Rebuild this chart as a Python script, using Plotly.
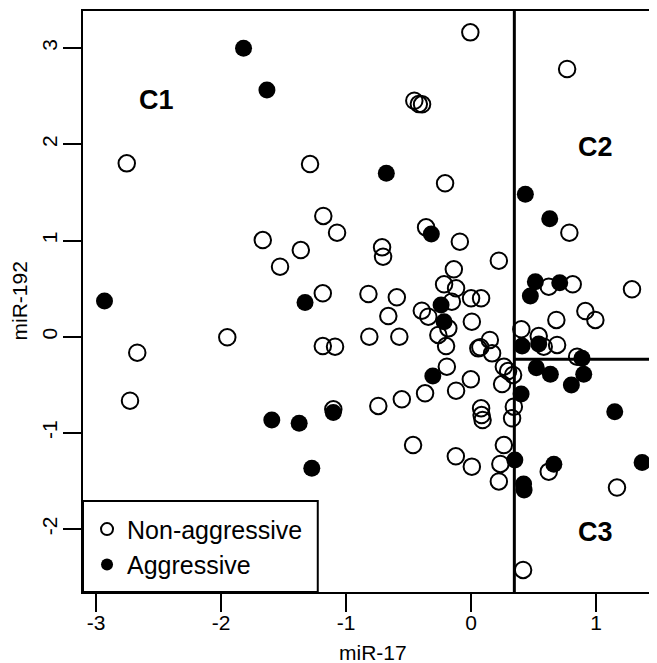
import plotly.graph_objects as go

# Non-aggressive (open circles)
non_x = [-2.754, -1.288, -0.006, 0.768, -0.454, -0.418, -0.392, -0.208, -1.666, -1.182,
         -1.362, -1.528, -1.072, -1.186, -0.712, -0.704, -0.360, -0.090, 0.222, -0.138,
         0.786, -0.821, -0.594, -0.662, -0.216, -0.120, 0.000, 0.080, -0.154, -0.394,
         -0.342, -0.182, -0.262, -0.200, 0.006, 0.058, -0.814, -0.574, -1.186, -1.088,
         -0.194, -0.002, -0.120, -0.368, -0.554, -0.742, -1.102, 0.080, 0.084, 0.092,
         0.342, 0.328, 0.150, 0.074, 0.168, 0.262, 0.296, 0.336, 0.248, -2.670,
         -1.950, -2.728, -0.464, -0.122, 0.006, 0.234, 0.222, 0.262, 0.416, 0.621,
         0.813, 1.287, 0.682, 0.914, 0.994, 0.402, 0.541, 0.581, 0.688, 0.848,
         0.621, 1.167]
non_y = [1.802, 1.795, 3.164, 2.783, 2.453, 2.419, 2.416, 1.595, 1.005, 1.255,
         0.901, 0.728, 1.081, 0.451, 0.929, 0.832, 1.137, 0.988, 0.790, 0.701,
         1.081, 0.444, 0.410, 0.215, 0.545, 0.503, 0.399, 0.399, 0.364, 0.270,
         0.208, 0.087, 0.018, -0.097, 0.156, -0.121, 0.000, 0.000, -0.097, -0.104,
         -0.312, -0.443, -0.561, -0.588, -0.651, -0.720, -0.755, -0.744, -0.814, -0.866,
         -0.728, -0.848, -0.034, -0.110, -0.173, -0.312, -0.357, -0.398, -0.492, -0.166,
         -0.006, -0.665, -1.126, -1.243, -1.351, -1.323, -1.505, -1.126, -2.425, 0.520,
         0.545, 0.493, 0.174, 0.267, 0.174, 0.077, 0.007, -0.104, -0.086, -0.208,
         -1.403, -1.568]

# Aggressive (filled circles)
agg_x = [-1.820, -1.633, -2.932, -1.328, -0.678, -0.318, -0.240, -0.216, -0.306, -1.102,
         -1.594, -1.375, -1.274, 0.434, 0.629, 0.514, 0.474, 0.709, 0.408, 0.541,
         0.887, 0.522, 0.634, 0.901, 0.802, 0.400, 1.149, 0.350, 0.420, 0.424,
         0.662, 1.368]
agg_y = [2.998, 2.564, 0.371, 0.356, 1.699, 1.068, 0.330, 0.156, -0.409, -0.788,
         -0.866, -0.900, -1.368, 1.480, 1.227, 0.572, 0.423, 0.561, -0.097, -0.076,
         -0.225, -0.322, -0.391, -0.391, -0.502, -0.596, -0.780, -1.282, -1.531, -1.594,
         -1.326, -1.308]

x_ticks = [-3, -2, -1, 0, 1]
y_ticks = [-2, -1, 0, 1, 2, 3]
cut_x = 0.346
cut_y = -0.235
region_labels = ["C1", "C2", "C3"]
region_lx = [-2.52, 0.995, 0.995]
region_ly = [2.46, 1.975, -2.03]

FONT = "Liberation Sans, Arial, Helvetica, sans-serif"

fig = go.Figure()
fig.add_trace(go.Scatter(
    x=non_x, y=non_y, mode="markers", name="Non-aggressive",
    marker=dict(symbol="circle-open", size=16.5, color="black", line=dict(width=2, color="black")),
))
fig.add_trace(go.Scatter(
    x=agg_x, y=agg_y, mode="markers", name="Aggressive",
    marker=dict(symbol="circle", size=17, color="black", line=dict(width=0)),
))

for t, lx, ly in zip(region_labels, region_lx, region_ly):
    fig.add_annotation(x=lx, y=ly, text="<b>%s</b>" % t, showarrow=False,
                       font=dict(family=FONT, size=27, color="black"),
                       xanchor="center", yanchor="middle")

# split lines
fig.add_shape(type="line", xref="x", yref="paper", x0=cut_x, x1=cut_x, y0=0, y1=1,
              line=dict(color="black", width=3))
fig.add_shape(type="line", xref="x", yref="y", x0=cut_x, x1=1.487, y0=cut_y, y1=cut_y,
              line=dict(color="black", width=3))

# legend box
fig.add_shape(type="rect", xref="paper", yref="paper", x0=0, x1=0.409, y0=0, y1=0.1566,
              line=dict(color="black", width=2), fillcolor="white", layer="below")

fig.add_annotation(text="miR-17", xref="paper", yref="paper", x=0.505, y=0,
                   yshift=-60, showarrow=False, xanchor="center", yanchor="middle",
                   font=dict(family=FONT, size=21, color="black"))
fig.add_annotation(text="miR-192", xref="paper", yref="paper", x=0, y=0.5,
                   xshift=-64, showarrow=False, xanchor="center", yanchor="middle",
                   textangle=-90, font=dict(family=FONT, size=21, color="black"))

fig.update_layout(
    width=649, height=655,
    margin=dict(l=75, r=0, t=3, b=71, pad=0),
    paper_bgcolor="white", plot_bgcolor="rgba(0,0,0,0)",
    font=dict(family=FONT, color="black"),
    showlegend=True,
    legend=dict(x=0.007, y=0.008, xanchor="left", yanchor="bottom",
                bgcolor="rgba(0,0,0,0)", borderwidth=0,
                font=dict(family=FONT, size=25, color="black"),
                itemsizing="constant"),
    xaxis=dict(range=[-3.104, 1.487], tickvals=x_ticks, ticktext=[str(v) for v in x_ticks],
               showgrid=False, zeroline=False, showline=True, mirror=True,
               linecolor="black", linewidth=2, ticks="outside", ticklen=18, tickwidth=2,
               tickcolor="black", ticklabelstandoff=-7,
               tickfont=dict(family=FONT, size=21, color="black")),
    yaxis=dict(range=[-2.654, 3.386], tickvals=y_ticks, ticktext=[str(v) for v in y_ticks],
               showgrid=False, zeroline=False, showline=True, mirror=False,
               linecolor="black", linewidth=2, ticks="outside", ticklen=18, tickwidth=2,
               tickcolor="black", tickangle=-90, ticklabelstandoff=-2,
               tickfont=dict(family=FONT, size=21, color="black")),
)

fig.write_html("out.html")
